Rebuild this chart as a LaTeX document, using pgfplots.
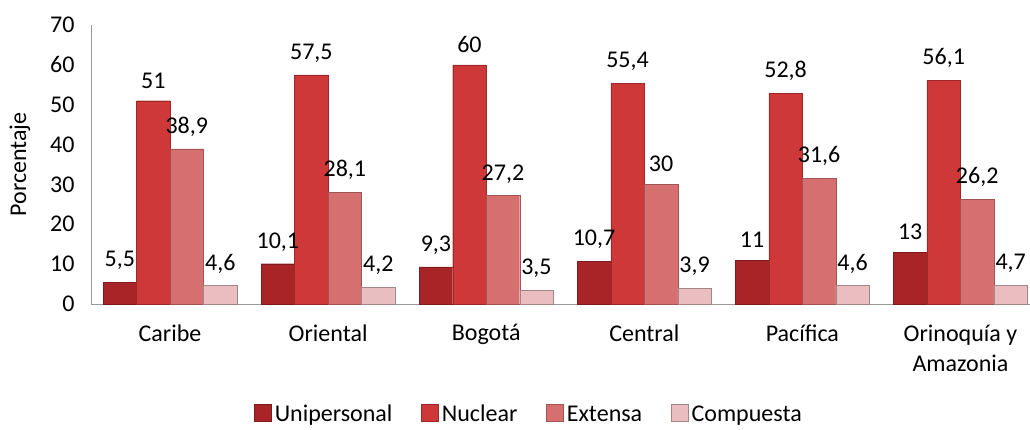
\documentclass[border=0pt]{standalone}
\usepackage{pgfplots}
\pgfplotsset{compat=1.18}
\usepackage{fontspec}
\setmainfont{Carlito}
\definecolor{cUni}{RGB}{168,36,38}
\definecolor{cNuc}{RGB}{206,56,56}
\definecolor{cExt}{RGB}{214,112,112}
\definecolor{cCom}{RGB}{234,190,192}
\newcommand{\cf}{\fontsize{24bp}{30bp}\selectfont}
\begin{document}
\begin{tikzpicture}
\useasboundingbox (-91bp,-126bp) rectangle (939bp,304bp);
\begin{axis}[
  scale only axis,
  width=939bp, height=279bp,
  ybar=0pt, bar width=33.5bp,
  xmin=-0.5, xmax=5.44,
  ymin=0, ymax=70,
  ytick={0,10,...,70},
  xtick={0,1,2,3,4,5},
  xticklabels={Caribe,Oriental,Bogotá,Central,Pacífica,{Orinoquía y\\Amazonia}},
  axis x line*=bottom, axis y line*=left,
  axis line style={draw=gray!80, -},
  major tick length=0pt,
  /pgf/number format/assume math mode=true,
  /pgf/number format/use comma,
  /pgf/number format/1000 sep={},
  tick label style={font=\cf},
  xticklabel style={align=center, yshift=-17bp},
  yticklabel style={xshift=-13bp},
  ylabel={Porcentaje},
  every axis y label/.style={at={(axis description cs:-0.0756,0.5)}, rotate=90, anchor=center, font=\cf},
  nodes near coords,
  every node near coord/.append style={font=\cf, yshift=9bp, text=black},
  legend columns=4,
  legend style={draw=none, at={(0.466,-0.395)}, anchor=center,
    font=\cf, nodes={inner sep=1.5bp},
    /tikz/every odd column/.append style={column sep=2bp},
    /tikz/every even column/.append style={column sep=27bp}},
  legend image code/.code={\fill[#1] (0bp,-7bp) rectangle (17bp,10bp);},
]
\addplot[fill=cUni, draw=cUni!75!black, line width=0.4pt] coordinates {(0,5.5) (1,10.1) (2,9.3) (3,10.7) (4,11) (5,13)};
\addplot[fill=cNuc, draw=cNuc!75!black, line width=0.4pt] coordinates {(0,51) (1,57.5) (2,60) (3,55.4) (4,52.8) (5,56.1)};
\addplot[fill=cExt, draw=cExt!75!black, line width=0.4pt] coordinates {(0,38.9) (1,28.1) (2,27.2) (3,30) (4,31.6) (5,26.2)};
\addplot[fill=cCom, draw=cCom!70!black, line width=0.4pt] coordinates {(0,4.6) (1,4.2) (2,3.5) (3,3.9) (4,4.6) (5,4.7)};
\legend{Unipersonal,Nuclear,Extensa,Compuesta}
\end{axis}
\end{tikzpicture}
\end{document}
